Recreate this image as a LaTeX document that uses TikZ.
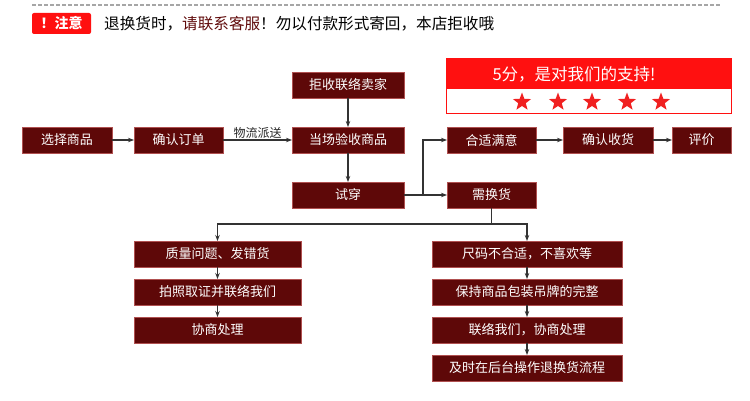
\documentclass[tikz,border=0pt]{standalone}
\usepackage{fontspec}
\newfontfamily\cjk{Noto Sans CJK SC}
\usetikzlibrary{positioning, arrows.meta, shapes.geometric}

\definecolor{boxred}{RGB}{94,8,8}
\definecolor{boxline}{RGB}{176,80,80}
\definecolor{alertred}{RGB}{255,16,16}
\definecolor{starred}{RGB}{240,32,32}
\definecolor{linkred}{RGB}{96,10,10}

\begin{document}
\begin{tikzpicture}[x=1pt,y=-1pt,>={Stealth[length=6pt,width=4.5pt]},
    box/.style={draw=boxline,line width=0.8pt,fill=boxred,text=white,minimum height=26pt,
      inner sep=0pt,outer sep=0pt,font=\cjk\fontsize{13}{13}\selectfont},
    flow/.style={->,draw=black!80,line width=1.1pt},
    node distance=22pt]
    \useasboundingbox (0,0) rectangle (750,401);

    % header
    \draw[gray!70,line width=1.5pt,dash pattern=on 4pt off 2pt] (32,5) -- (720,5);
    \node[fill=alertred,rounded corners=2pt,text=white,minimum width=59pt,minimum height=21pt,
      inner sep=0pt,font=\cjk\bfseries\fontsize{14}{14}\selectfont] (alert) at (61.5,23.5) {！注意};
    \node[anchor=west,inner sep=0pt,font=\cjk\fontsize{15.6}{15.6}\selectfont] (notice) at (104,24)
      {退换货时，\textcolor{linkred}{请联系客服}！勿以付款形式寄回，本店拒收哦};

    % rating
    \node[fill=alertred,minimum width=284pt,minimum height=30pt,inner sep=0pt] (score) at (589,74) {};
    \node[text=white,font=\cjk\fontsize{16.5}{16.5}\selectfont] (scoretext) at ([xshift=-15pt]score.center) {5分，是对我们的支持!};
    \node[minimum width=284pt,minimum height=24pt,inner sep=0pt,below=0pt of score] (stars) {};
    \draw[alertred,line width=1pt] (score.north west) rectangle (stars.south east);
    \foreach \sx in {522,558,592,627,661}
      \node[star,star points=5,star point ratio=2.4,fill=starred,minimum size=19pt,inner sep=0pt] at (\sx,102) {};

    % main row
    \node[box,minimum width=90pt] (select) at (67,140) {选择商品};
    \node[box,minimum width=89pt] (confirm) [right=22pt of select] {确认订单};
    \node[box,minimum width=112pt] (inspect) [right=69pt of confirm] {当场验收商品};
    \node[box,minimum width=112pt] (refuse) [above=29pt of inspect] {拒收联络卖家};
    \node[box,minimum width=112pt] (try) [below=29pt of inspect] {试穿};
    \node[box,minimum width=89pt] (fit) [right=43pt of inspect] {合适满意};
    \node[box,minimum width=90pt] (receive) [right=27pt of fit] {确认收货};
    \node[box,minimum width=59pt] (rate) [right=19pt of receive] {评价};
    \node[box,minimum width=89pt] (exchange) [right=43pt of try] {需换货};

    % quality branch
    \node[box,minimum width=167pt] (q1) at (217.5,254) {质量问题、发错货};
    \node[box,minimum width=167pt] (q2) [below=12pt of q1] {拍照取证并联络我们};
    \node[box,minimum width=167pt] (q3) [below=12pt of q2] {协商处理};

    % size branch
    \node[box,minimum width=190pt] (s1) at (527,254) {尺码不合适，不喜欢等};
    \node[box,minimum width=190pt] (s2) [below=12pt of s1] {保持商品包装吊牌的完整};
    \node[box,minimum width=190pt] (s3) [below=12pt of s2] {联络我们，协商处理};
    \node[box,minimum width=190pt] (s4) [below=12pt of s3] {及时在后台操作退换货流程};

    \path[flow] (select) edge (confirm)
          (confirm) edge node[above,inner sep=1pt,text=black!85,font=\cjk\fontsize{12}{12}\selectfont] {物流派送} (inspect)
          (refuse) edge (inspect)
          (inspect) edge (try)
          (try) edge (exchange)
          (fit) edge (receive)
          (receive) edge (rate)
          (q1) edge (q2)
          (q2) edge (q3)
          (s1) edge (s2)
          (s2) edge (s3)
          (s3) edge (s4);

    \path (try.east) ++(19,0) coordinate (branch);
    \draw[flow] (branch) |- (fit.west);
    \path (exchange.south) ++(0,16) coordinate (split);
    \draw[draw=black!80,line width=1.1pt] (exchange.south) -- (split);
    \draw[flow] (split) -| (q1.north);
    \draw[flow] (split) -| (s1.north);
\end{tikzpicture}
\end{document}
